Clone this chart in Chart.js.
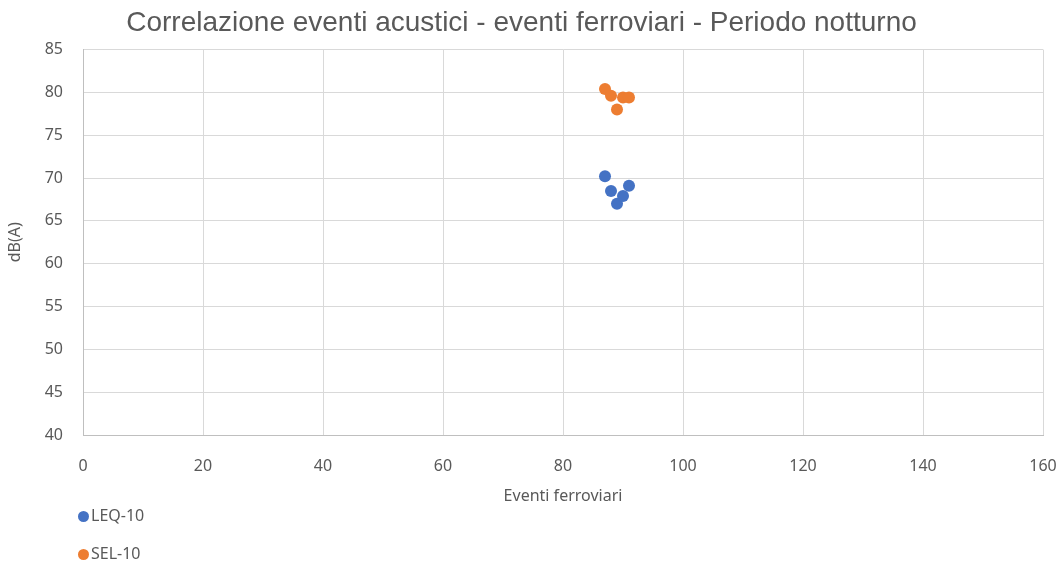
<!DOCTYPE html>
<html>
<head>
<meta charset="utf-8">
<script src="https://cdn.jsdelivr.net/npm/chart.js@4/dist/chart.umd.min.js"></script>
<style>
  html, body { margin: 0; padding: 0; background: #fff; }
  #wrap { position: relative; width: 1064px; height: 566px; }
  #legend { position: absolute; left: 78px; top: 502px; font-family: "Noto Sans", sans-serif; font-size: 16px; color: #595959; }
  #legend div { height: 38px; line-height: 26px; }
  #legend span.dot { display: inline-block; width: 11px; height: 11px; border-radius: 50%; margin-right: 2px; vertical-align: -1px; }
</style>
</head>
<body>
<div id="wrap">
  <canvas id="chart" width="1064" height="566"></canvas>
  <div id="legend"></div>
</div>
<script>
// eventi ferroviari (x) and dB(A) (y)
const leqX = [87, 88, 89, 90, 91];
const leqY = [70.2, 68.5, 67.0, 67.9, 69.1];
const selX = [87, 88, 89, 90, 91];
const selY = [80.4, 79.6, 78.0, 79.4, 79.4];
const seriesNames = ['LEQ-10', 'SEL-10'];

function pairs(xs, ys){
  return xs.map((x, i) => ({x: x, y: ys[i]}));
}

const tickFont = {family: '"Noto Sans", sans-serif', size: 16};
const grey = '#595959';

const chart = new Chart(document.getElementById('chart'), {
  type: 'scatter',
  data: {
    datasets: [
      { label: seriesNames[0], data: pairs(leqX, leqY), backgroundColor: '#4472C4', borderWidth: 0, pointRadius: 6, pointHoverRadius: 6 },
      { label: seriesNames[1], data: pairs(selX, selY), backgroundColor: '#ED7D31', borderWidth: 0, pointRadius: 6, pointHoverRadius: 6 }
    ]
  },
  options: {
    responsive: false,
    animation: false,
    layout: { padding: { left: 0, right: 21, top: 0, bottom: 51 } },
    plugins: {
      legend: { display: false },
      tooltip: { enabled: false },
      title: {
        display: true,
        text: 'Correlazione eventi acustici - eventi ferroviari - Periodo notturno',
        color: grey,
        font: { family: '"Liberation Sans", Arial, sans-serif', size: 28, weight: 'normal' },
        padding: { top: 6, bottom: 10 }
      }
    },
    scales: {
      x: {
        type: 'linear', min: 0, max: 160,
        ticks: { stepSize: 20, color: grey, font: tickFont, padding: 22 },
        grid: { color: '#d9d9d9', drawTicks: false },
        border: { color: '#bfbfbf' },
        title: { display: true, text: 'Eventi ferroviari', color: grey, font: tickFont, padding: { top: 0, bottom: 9 } },
        afterFit: s => { s.height = 80; s.paddingRight = 0; s.paddingLeft = 0; }
      },
      y: {
        type: 'linear', min: 40, max: 85,
        ticks: { stepSize: 5, color: grey, font: tickFont, padding: 20 },
        grid: { color: '#d9d9d9', drawTicks: false },
        border: { color: '#bfbfbf' },
        title: { display: true, text: 'dB(A)', color: grey, font: tickFont, padding: { top: 6, bottom: 0 } },
        afterFit: s => { s.width = 83; }
      }
    }
  }
});

const legend = document.getElementById('legend');
chart.data.datasets.forEach(ds => {
  const row = document.createElement('div');
  row.innerHTML = `<span class="dot" style="background:${ds.backgroundColor}"></span>${ds.label}`;
  legend.appendChild(row);
});
</script>
</body>
</html>
